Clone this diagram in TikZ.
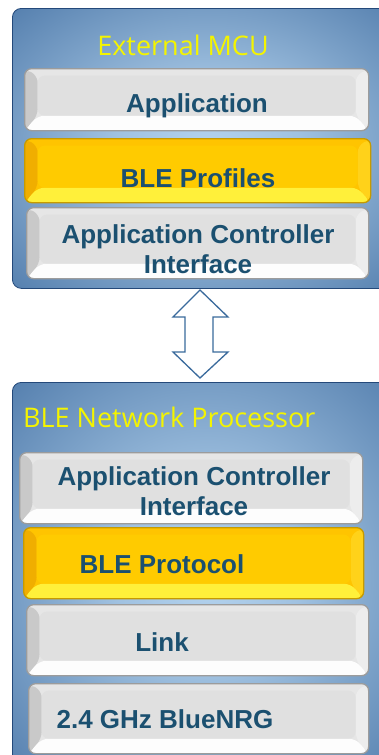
\documentclass[tikz,border=0pt]{standalone}
\usepackage{fontspec}
\setmainfont{Liberation Sans}
\newfontfamily\titlefont{Open Sans}
\usetikzlibrary{calc}
\definecolor{txt}{HTML}{1B5070}
\definecolor{contdark}{HTML}{2E5D94}
\definecolor{contlight}{HTML}{B4D3EE}
\definecolor{contedge}{HTML}{24497A}
\definecolor{ttl}{HTML}{F4F400}
\definecolor{arrowc}{HTML}{3A6A9C}
% gray bevel colours
\definecolor{gface}{HTML}{E0E0E0}
\definecolor{gtop}{HTML}{E6E6E6}
\definecolor{gleft}{HTML}{C9C9C9}
\definecolor{gright}{HTML}{EDEDED}
\definecolor{gbot}{HTML}{FDFDFD}
\definecolor{gborder}{HTML}{9C9C9C}
% gold bevel colours
\definecolor{yface}{HTML}{FFCB00}
\definecolor{ytop}{HTML}{FFC400}
\definecolor{yleft}{HTML}{F0AE00}
\definecolor{yright}{HTML}{FFD21A}
\definecolor{ybot}{HTML}{FFF03A}
\definecolor{yborder}{HTML}{C69A00}
\pgfdeclareradialshading{contshade}{\pgfpoint{0bp}{0bp}}{color(0bp)=(contlight); color(12bp)=(contlight!85!contdark); color(48bp)=(contdark); color(80bp)=(contdark)}
\tikzset{
  x=1pt, y=-1pt,
  container/.style={draw=contedge, line width=0.8pt, rounded corners=9pt, shading=contshade},
  bevel/.style n args={5}{path picture={
    \coordinate (bSW) at (path picture bounding box.south west);
    \coordinate (bNE) at (path picture bounding box.north east);
    \coordinate (bNW) at (path picture bounding box.north west);
    \coordinate (bSE) at (path picture bounding box.south east);
    \fill[#2] (bSW) rectangle (bNE);
    \fill[#3] (bSW) -- (bNW) -- ($(bNW)+(13pt,-7pt)$) -- ($(bSW)+(13pt,15pt)$) -- cycle;
    \fill[#4] (bSE) -- (bNE) -- ($(bNE)+(-13pt,-7pt)$) -- ($(bSE)+(-13pt,15pt)$) -- cycle;
    \fill[#5] (bSW) -- (bSE) -- ($(bSE)+(-13pt,15pt)$) -- ($(bSW)+(13pt,15pt)$) -- cycle;
    \fill[#1] ($(bSW)+(13pt,15pt)$) rectangle ($(bNE)+(-13pt,-7pt)$);
  }},
  graybox/.style={draw=gborder, line width=1.3pt, rounded corners=7pt, inner sep=0pt,
    bevel={gface}{gtop}{gleft}{gright}{gbot}},
  goldbox/.style={draw=yborder, line width=1.3pt, rounded corners=7pt, inner sep=0pt,
    bevel={yface}{ytop}{yleft}{yright}{ybot}},
  lbl/.style={font=\bfseries\fontsize{26}{28}\selectfont, text=txt, anchor=base, inner sep=0pt},
  ttlstyle/.style={font=\titlefont\fontsize{27}{30}\selectfont, text=ttl, anchor=base, inner sep=0pt},
  dblarrow/.style={draw=arrowc, line width=1.3pt, fill=white, line join=miter}
}
\begin{document}
\begin{tikzpicture}
\clip (0,0) rectangle (379,755);
\fill[white] (0,0) rectangle (379,755);
% containers
\node[container, minimum width=390pt, minimum height=280pt, anchor=north west] (mcu) at (12,8) {};
\node[container, minimum width=390pt, minimum height=390pt, anchor=north west] (np) at (12,382) {};
\node[ttlstyle] (mcut) at (183,55) {External MCU};
\node[ttlstyle, anchor=base west] (npt) at (23,427) {BLE Network Processor};
% top stack
\node[graybox, minimum width=344pt, minimum height=62pt, anchor=north west] (app) at (24,68) {};
\node[goldbox, minimum width=346pt, minimum height=64pt, anchor=north west] (prof) at (24,138) {};
\node[graybox, minimum width=342pt, minimum height=71pt, anchor=north west] (aci1) at (26,207) {};
\node[lbl] (appt) at (197,112) {Application};
\node[lbl] (proft) at (198,187) {BLE Profiles};
\node[lbl] (aci1a) at (198,243) {Application Controller};
\node[lbl] (aci1b) at (198,273) {Interface};
% bottom stack
\node[graybox, minimum width=343pt, minimum height=71pt, anchor=north west] (aci2) at (19,452) {};
\node[goldbox, minimum width=340pt, minimum height=71pt, anchor=north west] (prot) at (23,527) {};
\node[graybox, minimum width=342pt, minimum height=71pt, anchor=north west] (link) at (26,604) {};
\node[graybox, minimum width=340pt, minimum height=70pt, anchor=north west] (rf) at (28,683) {};
\node[lbl] (aci2a) at (194,485) {Application Controller};
\node[lbl] (aci2b) at (194,515) {Interface};
\node[lbl] (prott) at (162,573) {BLE Protocol};
\node[lbl] (linkt) at (162,651) {Link};
\node[lbl] (rft) at (165,728) {2.4 GHz BlueNRG};
% double arrow between the two containers
\coordinate (atop) at (200,290);
\coordinate (abot) at (200,378);
\draw[dblarrow] (atop) -- ++(28,27) -- ++(-15,0) -- ++(0,35) -- ++(15,0) -- (abot)
  -- ++(-27,-26) -- ++(12,0) -- ++(0,-35) -- ++(-12,0) -- cycle;
\end{tikzpicture}
\end{document}
